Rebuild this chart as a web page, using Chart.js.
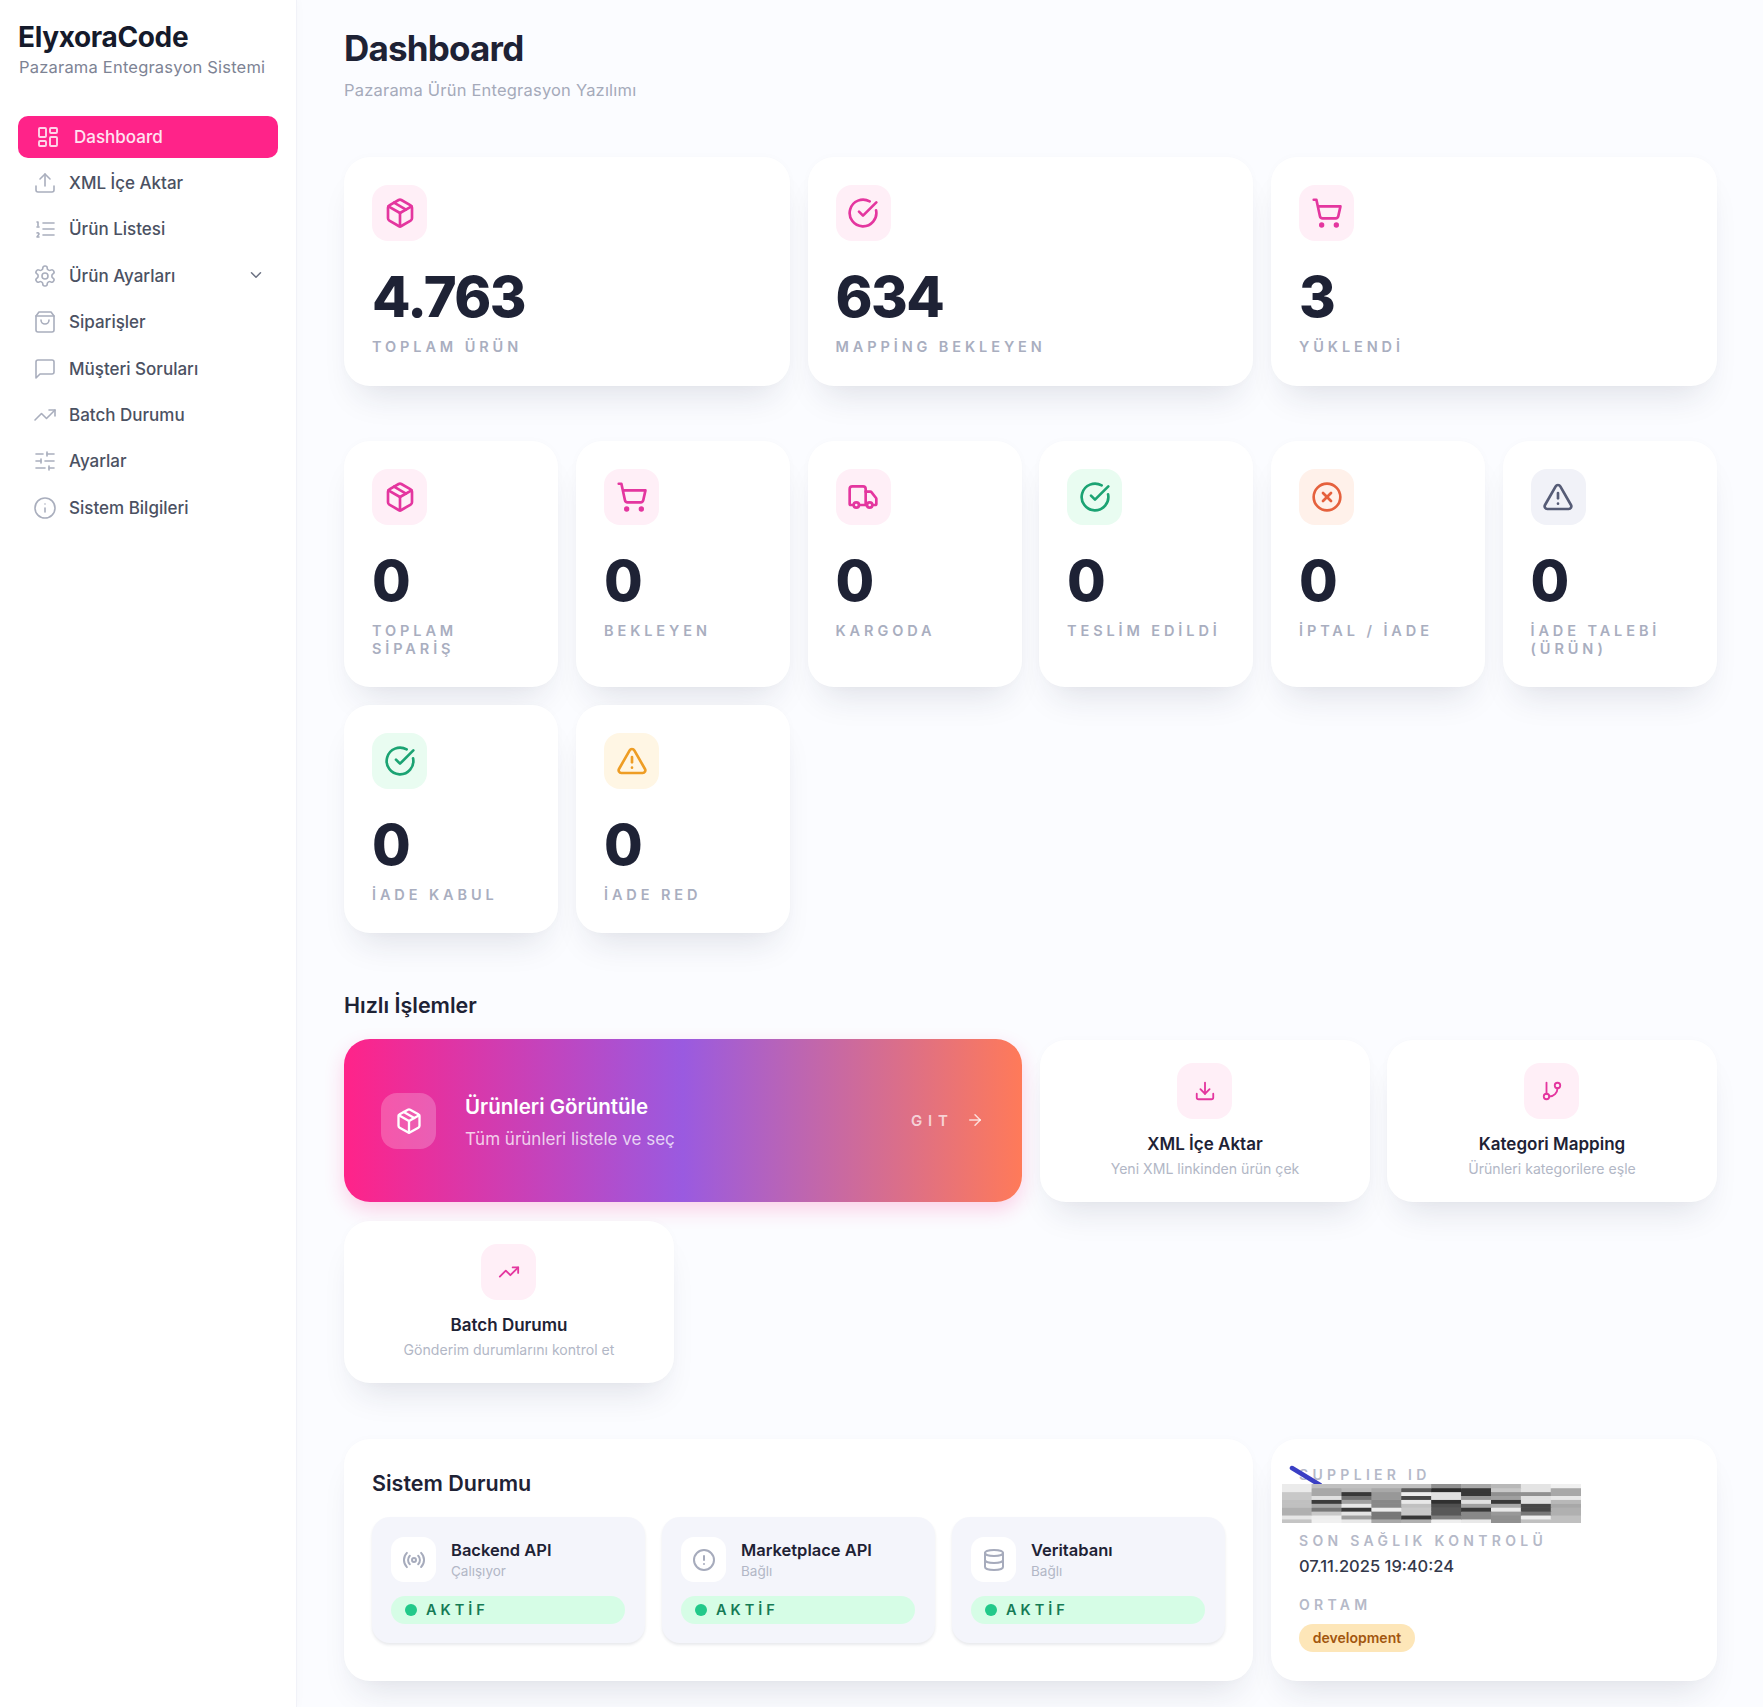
<!DOCTYPE html>
<html lang="tr">
<head>
<meta charset="utf-8">
<title>ElyxoraCode Dashboard</title>
<script src="https://cdn.jsdelivr.net/npm/chart.js@4"></script>
<style>
* { box-sizing: border-box; margin: 0; padding: 0; }
html, body { width: 1763px; height: 1707px; overflow: hidden; background: #fbfcff; font-family: Inter, sans-serif; color: #1e2235; }
svg.ic { fill: none; stroke: currentColor; stroke-width: 2; stroke-linecap: round; stroke-linejoin: round; display: block; }

.sidebar { position: absolute; left: 0; top: 0; width: 297px; height: 1707px; background: #fff; border-right: 1px solid #f1f2f8; box-shadow: 2px 0 8px rgba(30,35,70,.02); }
.brand { position: absolute; left: 18px; top: 19px; font-size: 28px; font-weight: 700; letter-spacing: -.35px; line-height: 36px; color: #151a2b; }
.brand-sub { position: absolute; left: 19px; top: 56px; font-size: 16.5px; line-height: 22px; color: #7d8394; letter-spacing: .2px; }
.nav-item { position: absolute; left: 18px; width: 260px; height: 44px; font-size: 17px; font-weight: 500; color: #4b5162; line-height: 44px; }
.nav-item span { position: absolute; left: 51px; top: 0; }
.nav-item svg { position: absolute; left: 15px; top: 10px; color: #a9aebd; stroke-width: 1.6; }
.nav-item.active { background: #ff2389; border-radius: 10px; color: #ffe3f1; height: 42px; line-height: 42px; }
.nav-item.active span { left: 56px; }
.nav-item.active svg { left: 18px; top: 9px; color: #ffd4e9; stroke-width: 1.9; }
.chev { position: absolute; left: 247px; top: 266px; color: #6b7182; stroke-width: 2; }

h1 { position: absolute; left: 344px; top: 24px; font-size: 35px; line-height: 48px; font-weight: 700; letter-spacing: -.8px; color: #1e2235; }
.page-sub { position: absolute; left: 344px; top: 79px; font-size: 16.5px; line-height: 22px; color: #a5aaba; letter-spacing: .2px; }

.card { position: absolute; background: #fff; border-radius: 26px; box-shadow: 0 22px 34px -14px rgba(30,35,70,.13), 0 0 10px rgba(30,35,70,.02); }
.tile { position: absolute; left: 28px; top: 28px; width: 55px; height: 56px; border-radius: 16px; display: flex; align-items: center; justify-content: center; }
.pink { background: #ffeff7; color: #e4369f; }
.green { background: #e9fcf1; color: #1ba373; }
.orange { background: #fff1ea; color: #e5613d; }
.slate { background: #f1f2f8; color: #565c76; }
.amber { background: #fff6e4; color: #ee9d24; }
.num { position: absolute; left: 28px; top: 104px; font-size: 56px; line-height: 72px; font-weight: 800; color: #1e2235; letter-spacing: -1.5px; }
.lbl { position: absolute; left: 28px; top: 181px; right: 24px; font-size: 14.5px; line-height: 18px; font-weight: 600; letter-spacing: 3.9px; color: #a9aebf; }

h2 { position: absolute; font-size: 21.5px; line-height: 28px; font-weight: 600; color: #1e2235; }
.hero { position: absolute; left: 344px; top: 1039px; width: 677.5px; height: 163px; border-radius: 26px; color: #fff;
  background: linear-gradient(90deg, #ff2389 0%, #9a5ae0 50%, #ff7a59 100%); box-shadow: 0 8px 20px rgba(255,35,137,.2); }
.hero .tile { left: 37px; top: 54px; background: rgba(255,255,255,.22); color: #fff; }
.hero-title { position: absolute; left: 121px; top: 54px; font-size: 20.5px; line-height: 28px; font-weight: 600; }
.hero-sub { position: absolute; left: 121px; top: 88px; font-size: 17px; line-height: 24px; color: rgba(255,255,255,.75); }
.hero-go { position: absolute; left: 567px; top: 71px; font-size: 15px; line-height: 22px; font-weight: 600; letter-spacing: 5.8px; color: rgba(255,255,255,.7); }
.hero-arrow { position: absolute; left: 622px; top: 72px; color: rgba(255,255,255,.75); }

.action { width: 330px; height: 162px; text-align: center; }
.action .tile { left: 137px; top: 23px; }
.action b { position: absolute; left: 0; right: 0; top: 92px; font-size: 17px; line-height: 24px; font-weight: 600; }
.action i { position: absolute; left: 0; right: 0; top: 119px; font-size: 14.1px; line-height: 20px; font-style: normal; color: #b2b7c6; }

.svc { position: absolute; top: 78px; width: 273px; height: 126px; background: #f4f5fb; border-radius: 18px; box-shadow: 0 2px 3px rgba(30,35,70,.1); }
.svc .tile { left: 19px; top: 20px; width: 45px; height: 45px; border-radius: 13px; background: #fff; color: #a6abbc; }
.svc b { position: absolute; left: 79px; top: 22px; font-size: 16.5px; line-height: 22px; font-weight: 600; }
.svc i { position: absolute; left: 79px; top: 44px; font-size: 13.5px; line-height: 20px; font-style: normal; color: #b2b7c6; }
.pill { position: absolute; left: 19px; top: 79px; width: 234px; height: 28px; border-radius: 14px; background: #d6fde6; }
.pill em { position: absolute; left: 14px; top: 8px; width: 12px; height: 12px; border-radius: 50%; background: #22c98a; }
.pill span { position: absolute; left: 35px; top: 0; line-height: 28px; font-size: 14.5px; font-weight: 600; letter-spacing: 4px; color: #157a55; }

.info-lbl { position: absolute; left: 28px; font-size: 14px; line-height: 18px; font-weight: 600; letter-spacing: 4.3px; color: #b5b9c8; }
.info-val { position: absolute; left: 28px; top: 116px; font-size: 16.5px; line-height: 22px; font-weight: 500; color: #33384a; }
.badge { position: absolute; left: 28px; top: 185px; width: 116px; height: 28px; border-radius: 14px; background: #fde6b8; color: #a2560f; font-size: 14px; line-height: 28px; font-weight: 600; text-align: center; }
.slash { position: absolute; left: 16px; top: 24px; }
.mosaic { position: absolute; left: 11px; top: 45px; width: 299px; height: 39px; }
</style>
</head>
<body>
<div id="app"></div>
<script>
const navLabels = ['Dashboard', 'XML İçe Aktar', 'Ürün Listesi', 'Ürün Ayarları', 'Siparişler', 'Müşteri Soruları', 'Batch Durumu', 'Ayarlar', 'Sistem Bilgileri'];
const navIcons = ['dash', 'upload', 'list', 'gear', 'bag', 'chat', 'trend', 'sliders', 'info'];

const topLabels = ['TOPLAM ÜRÜN', 'MAPPİNG BEKLEYEN', 'YÜKLENDİ'];
const topValues = ['4.763', '634', '3'];
const topIcons = ['box', 'check', 'cart'];
const topTones = ['pink', 'pink', 'pink'];

const orderLabels = ['TOPLAM SİPARİŞ', 'BEKLEYEN', 'KARGODA', 'TESLİM EDİLDİ', 'İPTAL / İADE', 'İADE TALEBİ (ÜRÜN)', 'İADE KABUL', 'İADE RED'];
const orderValues = [0, 0, 0, 0, 0, 0, 0, 0];
const orderIcons = ['box', 'cart', 'truck', 'check', 'xcircle', 'warn', 'check', 'warn'];
const orderTones = ['pink', 'pink', 'pink', 'green', 'orange', 'slate', 'green', 'amber'];

const actionTitles = ['XML İçe Aktar', 'Kategori Mapping', 'Batch Durumu'];
const actionSubs = ['Yeni XML linkinden ürün çek', 'Ürünleri kategorilere eşle', 'Gönderim durumlarını kontrol et'];
const actionIcons = ['download', 'branch', 'trend'];

const serviceNames = ['Backend API', 'Marketplace API', 'Veritabanı'];
const serviceStates = ['Çalışıyor', 'Bağlı', 'Bağlı'];
const serviceIcons = ['radio', 'alert', 'db'];

// gray level of every cell of the blurred block, one list per row, top to bottom
const mosaicColumns = ['0', '1', '2', '3', '4', '5', '6', '7', '8', '9'];
const mosaicRow1 = [235, 192, 192, 192, 192, 144, 168, 184, 228, 240];
const mosaicRow2 = [235, 168, 184, 168, 88, 44, 56, 200, 228, 168];
const mosaicRow3 = [200, 168, 56, 152, 236, 224, 56, 144, 144, 168];
const mosaicRow4 = [200, 224, 112, 152, 72, 224, 152, 160, 224, 232];
const mosaicRow5 = [192, 60, 160, 136, 232, 48, 224, 56, 224, 184];
const mosaicRow6 = [192, 168, 232, 136, 192, 80, 160, 168, 72, 168];
const mosaicRow7 = [176, 120, 56, 236, 200, 88, 56, 232, 72, 176];
const mosaicRow8 = [176, 200, 228, 120, 200, 88, 136, 152, 120, 176];
const mosaicRow9 = [230, 238, 160, 120, 56, 128, 136, 144, 238, 192];
const mosaicRow10 = [196, 240, 232, 168, 176, 238, 232, 144, 192, 192];
const mosaicRows = [mosaicRow1, mosaicRow2, mosaicRow3, mosaicRow4, mosaicRow5, mosaicRow6, mosaicRow7, mosaicRow8, mosaicRow9, mosaicRow10];

const ICONS = {
    dash: '<rect width="7" height="9" x="3" y="3" rx="1"/><rect width="7" height="5" x="14" y="3" rx="1"/><rect width="7" height="9" x="14" y="12" rx="1"/><rect width="7" height="5" x="3" y="16" rx="1"/>',
    upload: '<path d="M21 15v4a2 2 0 0 1-2 2H5a2 2 0 0 1-2-2v-4"/><path d="m17 8-5-5-5 5"/><path d="M12 3v12"/>',
    list: '<path d="M10 6h11"/><path d="M10 12h11"/><path d="M10 18h11"/><path d="M4 5h1v4"/><path d="M4 10h2"/><path d="M6 20H4c0-1 2-2 2-3s-1-1.5-2-1"/>',
    gear: '<path d="M12.22 2h-.44a2 2 0 0 0-2 2v.18a2 2 0 0 1-1 1.73l-.43.25a2 2 0 0 1-2 0l-.15-.08a2 2 0 0 0-2.73.73l-.22.38a2 2 0 0 0 .73 2.73l.15.1a2 2 0 0 1 1 1.72v.51a2 2 0 0 1-1 1.74l-.15.09a2 2 0 0 0-.73 2.73l.22.38a2 2 0 0 0 2.73.73l.15-.08a2 2 0 0 1 2 0l.43.25a2 2 0 0 1 1 1.73V20a2 2 0 0 0 2 2h.44a2 2 0 0 0 2-2v-.18a2 2 0 0 1 1-1.73l.43-.25a2 2 0 0 1 2 0l.15.08a2 2 0 0 0 2.73-.73l.22-.39a2 2 0 0 0-.73-2.73l-.15-.08a2 2 0 0 1-1-1.74v-.5a2 2 0 0 1 1-1.74l.15-.09a2 2 0 0 0 .73-2.73l-.22-.38a2 2 0 0 0-2.73-.73l-.15.08a2 2 0 0 1-2 0l-.43-.25a2 2 0 0 1-1-1.73V4a2 2 0 0 0-2-2z"/><circle cx="12" cy="12" r="3"/>',
    bag: '<path d="M6 2 3 6v14a2 2 0 0 0 2 2h14a2 2 0 0 0 2-2V6l-3-4Z"/><path d="M3 6h18"/><path d="M16 10a4 4 0 0 1-8 0"/>',
    chat: '<path d="M21 15a2 2 0 0 1-2 2H7l-4 4V5a2 2 0 0 1 2-2h14a2 2 0 0 1 2 2z"/>',
    trend: '<path d="m22 7-8.5 8.5-5-5L2 17"/><path d="M16 7h6v6"/>',
    sliders: '<path d="M21 5h-7"/><path d="M10 5H3"/><path d="M21 12h-9"/><path d="M8 12H3"/><path d="M21 19h-5"/><path d="M12 19H3"/><path d="M14 3v4"/><path d="M8 10v4"/><path d="M16 17v4"/>',
    info: '<circle cx="12" cy="12" r="10"/><path d="M12 16v-4"/><path d="M12 8h.01"/>',
    chevron: '<path d="m6 9 6 6 6-6"/>',
    box: '<path d="m7.5 4.27 9 5.15"/><path d="M21 8a2 2 0 0 0-1-1.73l-7-4a2 2 0 0 0-2 0l-7 4A2 2 0 0 0 3 8v8a2 2 0 0 0 1 1.73l7 4a2 2 0 0 0 2 0l7-4A2 2 0 0 0 21 16Z"/><path d="m3.3 7 8.7 5 8.7-5"/><path d="M12 22V12"/>',
    check: '<path d="M21.8 10A10 10 0 1 1 17 3.34"/><path d="m9 11 3 3L22 4"/>',
    cart: '<circle cx="8" cy="21" r="1"/><circle cx="19" cy="21" r="1"/><path d="M2.05 2.05h2l2.66 12.42a2 2 0 0 0 2 1.58h9.78a2 2 0 0 0 1.95-1.57l1.65-7.43H5.12"/>',
    truck: '<path d="M14 18V6a2 2 0 0 0-2-2H4a2 2 0 0 0-2 2v11a1 1 0 0 0 1 1h2"/><path d="M15 18H9"/><path d="M19 18h2a1 1 0 0 0 1-1v-3.65a1 1 0 0 0-.22-.62l-3.48-4.35A1 1 0 0 0 17.52 8H14"/><circle cx="17" cy="18" r="2"/><circle cx="7" cy="18" r="2"/>',
    xcircle: '<circle cx="12" cy="12" r="10"/><path d="m15 9-6 6"/><path d="m9 9 6 6"/>',
    warn: '<path d="m21.73 18-8-14a2 2 0 0 0-3.48 0l-8 14A2 2 0 0 0 4 21h16a2 2 0 0 0 1.73-3"/><path d="M12 9v4"/><path d="M12 17h.01"/>',
    download: '<path d="M21 15v4a2 2 0 0 1-2 2H5a2 2 0 0 1-2-2v-4"/><path d="m7 10 5 5 5-5"/><path d="M12 15V3"/>',
    branch: '<path d="M6 3v12"/><circle cx="18" cy="6" r="3"/><circle cx="6" cy="18" r="3"/><path d="M18 9a9 9 0 0 1-9 9"/>',
    radio: '<path d="M4.9 19.1C1 15.2 1 8.8 4.9 4.9"/><path d="M7.8 16.2c-2.3-2.3-2.3-6.1 0-8.5"/><circle cx="12" cy="12" r="2"/><path d="M16.2 7.8c2.3 2.3 2.3 6.1 0 8.5"/><path d="M19.1 4.9C23 8.8 23 15.1 19.1 19"/>',
    alert: '<circle cx="12" cy="12" r="10"/><path d="M12 8v4"/><path d="M12 16h.01"/>',
    db: '<ellipse cx="12" cy="5" rx="9" ry="3"/><path d="M3 5v14a9 3 0 0 0 18 0V5"/><path d="M3 12a9 3 0 0 0 18 0"/>',
    arrow: '<path d="M5 12h14"/><path d="m12 5 7 7-7 7"/>'
};

function icon(name, size) {
    return `<svg class="ic" width="${size}" height="${size}" viewBox="0 0 24 24">${ICONS[name]}</svg>`;
}

function statCard(left, top, width, height, value, label, iconName, tone) {
    return `<div class="card" style="left:${left}px;top:${top}px;width:${width}px;height:${height}px">
        <div class="tile ${tone}">${icon(iconName, 32)}</div>
        <div class="num">${value}</div>
        <div class="lbl">${label}</div>
    </div>`;
}

function actionCard(left, top, idx) {
    return `<div class="card action" style="left:${left}px;top:${top}px">
        <div class="tile pink">${icon(actionIcons[idx], 22)}</div>
        <b>${actionTitles[idx]}</b>
        <i>${actionSubs[idx]}</i>
    </div>`;
}

function renderPage() {
    let html = '';

    // Sidebar
    html += '<div class="sidebar"><div class="brand">ElyxoraCode</div><div class="brand-sub">Pazarama Entegrasyon Sistemi</div>';
    navLabels.forEach((label, i) => {
        const top = i === 0 ? 116 : 161 + (i - 1) * 46.4;
        html += `<div class="nav-item ${i === 0 ? 'active' : ''}" style="top:${top}px">${icon(navIcons[i], 24)}<span>${label}</span></div>`;
    });
    html += `<div class="chev">${icon('chevron', 18)}</div></div>`;

    html += '<h1>Dashboard</h1><div class="page-sub">Pazarama Ürün Entegrasyon Yazılımı</div>';

    // KPI rows
    const wideLeft = [344, 807.5, 1271];
    topValues.forEach((v, i) => {
        html += statCard(wideLeft[i], 157, 445.5, 229, v, topLabels[i], topIcons[i], topTones[i]);
    });
    const narrowLeft = [344, 576, 807.5, 1039, 1271, 1502.5];
    orderValues.forEach((v, i) => {
        const top = i < 6 ? 441 : 705;
        const height = i < 6 ? 246 : 228;
        html += statCard(narrowLeft[i % 6], top, 214, height, v, orderLabels[i], orderIcons[i], orderTones[i]);
    });

    // Quick actions
    html += '<h2 style="left:344px;top:991px">Hızlı İşlemler</h2>';
    html += `<div class="hero"><div class="tile">${icon('box', 28)}</div>
        <div class="hero-title">Ürünleri Görüntüle</div>
        <div class="hero-sub">Tüm ürünleri listele ve seç</div>
        <div class="hero-go">GIT</div><div class="hero-arrow">${icon('arrow', 18)}</div></div>`;
    html += actionCard(1040, 1040, 0) + actionCard(1387, 1040, 1) + actionCard(344, 1221, 2);

    // System status
    const svcLeft = [28, 318, 608];
    html += '<div class="card" style="left:344px;top:1439px;width:908.5px;height:242px"><h2 style="left:28px;top:30px">Sistem Durumu</h2>';
    serviceNames.forEach((name, i) => {
        html += `<div class="svc" style="left:${svcLeft[i]}px"><div class="tile">${icon(serviceIcons[i], 24)}</div>
            <b>${name}</b><i>${serviceStates[i]}</i>
            <div class="pill"><em></em><span>AKTİF</span></div></div>`;
    });
    html += '</div>';

    // Info card
    html += `<div class="card" style="left:1271px;top:1439px;width:446px;height:242px">
        <div class="info-lbl" style="top:27px">SUPPLIER ID</div>
        <svg class="slash" width="36" height="24"><path d="M5 5 L33 22" stroke="#3a3fc4" stroke-width="4.5" stroke-linecap="round"/></svg>
        <canvas class="mosaic" id="mosaic" width="299" height="39"></canvas>
        <div class="info-lbl" style="top:93px">SON SAĞLIK KONTROLÜ</div>
        <div class="info-val">07.11.2025 19:40:24</div>
        <div class="info-lbl" style="top:157px">ORTAM</div>
        <div class="badge">development</div>
    </div>`;

    document.getElementById('app').innerHTML = html;
}

function renderMosaic() {
    const datasets = mosaicRows.map(row => ({
        data: row.map(() => 1),
        backgroundColor: row.map(g => `rgb(${g},${g},${g})`),
        borderWidth: 0,
        barPercentage: 1,
        categoryPercentage: 1
    }));
    new Chart(document.getElementById('mosaic'), {
        type: 'bar',
        data: { labels: mosaicColumns, datasets: datasets },
        options: {
            responsive: false,
            animation: false,
            devicePixelRatio: 1,
            plugins: { legend: { display: false }, tooltip: { enabled: false } },
            scales: {
                x: { stacked: true, display: false },
                y: { stacked: true, display: false, reverse: true, min: 0, max: mosaicRows.length }
            }
        }
    });
}

renderPage();
renderMosaic();
</script>
</body>
</html>
